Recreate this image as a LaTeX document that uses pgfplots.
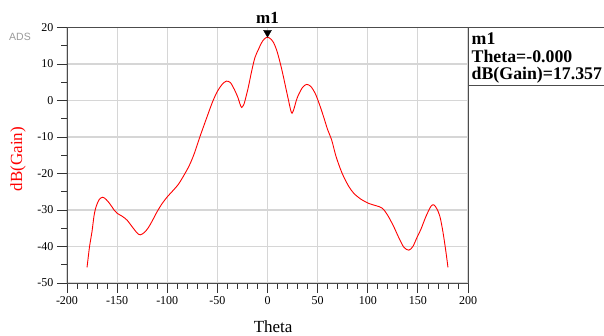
\documentclass[border=0pt]{standalone}
\usepackage{pgfplots}
\pgfplotsset{compat=1.18}
\usepackage{pgfplotstable}
\usepackage{fontspec}
\setmainfont{Liberation Serif}
\newfontfamily\adsfont{Liberation Sans}
\pgfplotstableread{
theta gain
-180 -45.7
-177.5 -40.0
-175 -35.8
-173 -31.5
-171 -29.1
-168 -27.2
-164.5 -26.5
-161 -27.1
-157 -28.4
-153 -30.0
-150 -30.9
-145 -31.7
-140 -32.8
-135 -34.6
-130 -36.3
-127 -36.8
-123 -36.2
-119 -34.9
-115 -33.0
-110 -30.4
-105 -28.2
-100 -26.4
-95 -24.9
-89 -23.0
-84 -20.8
-78 -17.8
-73 -14.5
-67.5 -10.0
-61 -5.0
-55 -0.5
-50 2.5
-45 4.5
-41 5.3
-37 4.9
-33 3.0
-29.5 0.8
-27.5 -0.9
-25.8 -1.9
-23.5 -1.0
-21 1.5
-19 3.8
-16 7.8
-12.5 11.8
-9 14.0
-6 15.8
-3 16.9
0 17.357
3 16.9
6 15.9
9 13.9
12 11.0
15 7.6
18 3.8
21 0.0
23 -2.5
24.5 -3.5
26.5 -2.2
28.5 -0.2
30.8 1.5
35 3.6
39 4.4
43 3.9
47.5 2.0
52 -1.2
56 -4.5
60 -8.0
64 -10.8
68 -15.0
72.5 -18.6
76 -20.9
81 -23.5
86 -25.4
93 -27.0
101 -28.2
108 -28.8
114.5 -29.5
120 -31.5
126 -34.6
131 -37.6
136 -40.2
141 -41.0
145 -40.0
149 -37.6
153 -35.3
158 -31.8
163 -29.0
166 -28.6
169 -29.7
172 -31.8
175 -36.0
178 -41.5
180 -45.7
}\gaindata
\begin{document}
\begin{tikzpicture}[x=1pt,y=1pt]
\begin{axis}[
  at={(67pt,52pt)}, anchor=south west,
  scale only axis, width=401pt, height=255.5pt,
  xmin=-200, xmax=200, ymin=-50, ymax=20,
  xtick distance=50, ytick distance=10,
  minor x tick num=4, minor y tick num=1,
  tick align=outside, xtick pos=bottom, ytick pos=left,
  major tick length=10pt, minor tick length=5.5pt,
  every tick/.style={black!80, line width=0.8pt},
  grid=major, major grid style={black!16, line width=1.2pt},
  axis line style={black!70, line width=1pt},
  tick label style={font=\fontsize{12}{12}\selectfont},
  /pgf/number format/assume math mode=true,
  xlabel={Theta}, ylabel={dB(Gain)},
  label style={font=\fontsize{17}{17}\selectfont},
  xlabel style={at={(axis description cs:0.514,-0.172)}, anchor=center},
  ylabel style={at={(axis description cs:-0.122,0.485)}, anchor=center, text=red},
  clip=false,
]
\addplot[red, line width=0.9pt, smooth, tension=0.5] table[x=theta, y=gain] {\gaindata};
\addplot[only marks, mark=triangle*, mark size=4.6pt, mark options={black, fill=black, yshift=4.6pt, rotate=180}] coordinates {(0,17.357)};
\node[anchor=base, inner sep=0pt, font=\fontsize{17}{17}\selectfont\bfseries, yshift=4.2pt] at (axis cs:0,20) {m1};
\end{axis}
\draw[black!70, line width=1pt] (468,307.5) -- (604,307.5);
\draw[black!70, line width=1pt] (468,249) -- (604,249);
\node[anchor=base west, inner sep=0pt, font=\fontsize{17.8}{17.8}\selectfont\bfseries] at (471.5,290) {m1};
\node[anchor=base west, inner sep=0pt, font=\fontsize{17.8}{17.8}\selectfont\bfseries] at (471.5,272.3) {Theta=-0.000};
\node[anchor=base west, inner sep=0pt, font=\fontsize{17.8}{17.8}\selectfont\bfseries] at (471.5,255) {dB(Gain)=17.357};
\node[inner sep=0pt, font=\adsfont\fontsize{10.5}{10.5}\selectfont, text=black!40] at (20,298) {ADS};
\pgfresetboundingbox
\useasboundingbox (0,0) rectangle (604,335);
\end{tikzpicture}
\end{document}
